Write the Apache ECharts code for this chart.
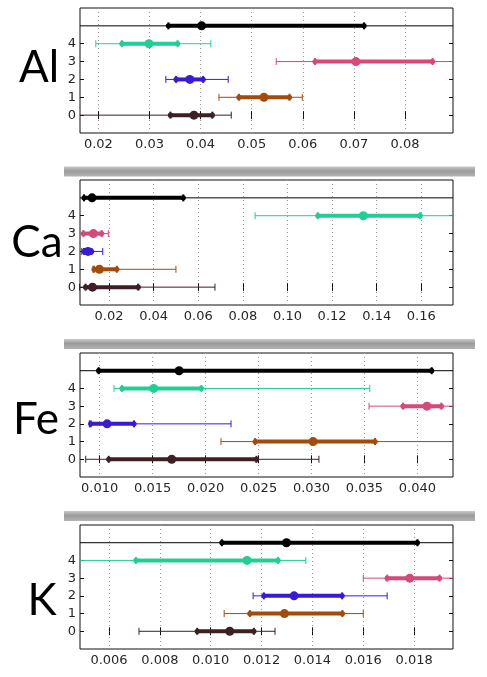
<!DOCTYPE html>
<html>
<head>
<meta charset="utf-8">
<script src="https://cdn.jsdelivr.net/npm/echarts@6/dist/echarts.min.js"></script>
<style>
  html, body { margin: 0; padding: 0; background: #ffffff; }
  #chart { width: 487px; height: 677px; }
</style>
</head>
<body>
<div id="chart"></div>
<script>
// Interval estimates per element; rows 0-4 are groups, row 5 is the pooled estimate.
// Each row: wide interval (thin), narrow interval (thick) and point estimate.
const rowIds = [0, 1, 2, 3, 4, 5];
const rowColors = ['#3d1f24', '#a34b0b', '#3b1ad6', '#d5497b', '#22cf93', '#000000'];
const yTickValues = [0, 1, 2, 3, 4];

// Al
const alThinLo  = [0.0100, 0.0436, 0.0332, 0.0548, 0.0195, 0.0000];
const alThinHi  = [0.0460, 0.0599, 0.0454, 0.0950, 0.0420, 0.1000];
const alThickLo = [0.0341, 0.0475, 0.0352, 0.0624, 0.0246, 0.0337];
const alThickHi = [0.0423, 0.0574, 0.0405, 0.0854, 0.0355, 0.0720];
const alPoint   = [0.0387, 0.0524, 0.0379, 0.0704, 0.0299, 0.0402];
const alRange   = [0.0164, 0.0894];
const alTicks   = [0.02, 0.03, 0.04, 0.05, 0.06, 0.07, 0.08];

// Ca
const caThinLo  = [0.0068, 0.0128, 0.0078, 0.0060, 0.0855, 0.0000];
const caThinHi  = [0.0675, 0.0500, 0.0172, 0.0197, 0.1900, 0.2000];
const caThickLo = [0.0095, 0.0133, 0.0088, 0.0085, 0.1136, 0.0088];
const caThickHi = [0.0331, 0.0235, 0.0122, 0.0167, 0.1595, 0.0533];
const caPoint   = [0.0126, 0.0157, 0.0106, 0.0130, 0.1340, 0.0124];
const caRange   = [0.0070, 0.1742];
const caTicks   = [0.02, 0.04, 0.06, 0.08, 0.10, 0.12, 0.14, 0.16];

// Fe
const feThinLo  = [0.00868, 0.02145, 0.00902, 0.03543, 0.01135, 0.0000];
const feThinHi  = [0.03070, 0.04600, 0.02240, 0.04600, 0.03550, 0.0600];
const feThickLo = [0.01085, 0.02468, 0.00915, 0.03864, 0.01210, 0.00990];
const feThickHi = [0.02480, 0.03600, 0.01324, 0.04226, 0.01960, 0.04135];
const fePoint   = [0.01680, 0.03015, 0.01070, 0.04090, 0.01510, 0.01750];
const feRange   = [0.00814, 0.04336];
const feTicks   = [0.010, 0.015, 0.020, 0.025, 0.030, 0.035, 0.040];

// K
const kThinLo   = [0.00718, 0.01053, 0.01167, 0.01600, 0.00400, 0.0000];
const kThinHi   = [0.01253, 0.01600, 0.01694, 0.02050, 0.01374, 0.0300];
const kThickLo  = [0.00947, 0.01154, 0.01209, 0.01694, 0.00706, 0.01044];
const kThickHi  = [0.01170, 0.01518, 0.01517, 0.01900, 0.01265, 0.01813];
const kPoint    = [0.01075, 0.01290, 0.01328, 0.01783, 0.01143, 0.01298];
const kRange    = [0.00486, 0.01953];
const kTicks    = [0.006, 0.008, 0.010, 0.012, 0.014, 0.016, 0.018];

const panels = [
  { name: 'Al', cols: [alThinLo, alThinHi, alThickLo, alThickHi, alPoint], range: alRange, ticks: alTicks, dec: 2, split: 7, top: 8,   height: 125, labelX: 39, labelY: 68 },
  { name: 'Ca', cols: [caThinLo, caThinHi, caThickLo, caThickHi, caPoint], range: caRange, ticks: caTicks, dec: 2, split: 8, top: 180, height: 125, labelX: 37, labelY: 243 },
  { name: 'Fe', cols: [feThinLo, feThinHi, feThickLo, feThickHi, fePoint], range: feRange, ticks: feTicks, dec: 3, split: 7, top: 353, height: 124, labelX: 36, labelY: 420 },
  { name: 'K',  cols: [kThinLo,  kThinHi,  kThickLo,  kThickHi,  kPoint],  range: kRange,  ticks: kTicks,  dec: 3, split: 7, top: 525, height: 124, labelX: 42, labelY: 601 }
];

// grey separators between the panels
const separators = [166.5, 339, 511];

function renderInterval(params, api) {
  const cs = params.coordSys;
  const left = cs.x, right = cs.x + cs.width;
  const row = api.value(0);
  const y = api.coord([0, row])[1];
  const px = v => api.coord([v, row])[0];
  const clamp = x => Math.max(left, Math.min(right, x));
  const inside = x => x >= left - 0.5 && x <= right + 0.5;
  const color = rowColors[row];
  const t1 = px(api.value(1)), t2 = px(api.value(2));
  const k1 = px(api.value(3)), k2 = px(api.value(4));
  const p = px(api.value(5));
  const children = [];
  children.push({ type: 'line', shape: { x1: clamp(t1), y1: y, x2: clamp(t2), y2: y },
                  style: { stroke: color, lineWidth: 1 } });
  [t1, t2].forEach(x => {
    if (inside(x)) children.push({ type: 'line', shape: { x1: x, y1: y - 3.5, x2: x, y2: y + 3.5 },
                                   style: { stroke: color, lineWidth: 1 } });
  });
  children.push({ type: 'line', shape: { x1: clamp(k1), y1: y, x2: clamp(k2), y2: y },
                  style: { stroke: color, lineWidth: 4 } });
  [k1, k2].forEach(x => {
    if (inside(x)) {
      children.push({ type: 'line', shape: { x1: x, y1: y - 3.5, x2: x, y2: y + 3.5 },
                      style: { stroke: color, lineWidth: 2 } });
      children.push({ type: 'circle', shape: { cx: x, cy: y, r: 2.6 }, style: { fill: color } });
    }
  });
  if (inside(p)) children.push({ type: 'circle', shape: { cx: p, cy: y, r: 4.5 }, style: { fill: color } });
  return { type: 'group', silent: true, children };
}

const tickFont = { fontFamily: 'DejaVu Sans', fontSize: 13, color: '#262626' };

const grid = [], xAxis = [], yAxis = [], series = [], graphic = [];
panels.forEach((pn, i) => {
  grid.push({ left: 80, right: 34, top: pn.top, height: pn.height, show: true,
              borderColor: '#111', borderWidth: 1, backgroundColor: 'transparent' });
  const fmt = v => Number(v).toFixed(pn.dec);
  xAxis.push({
    gridIndex: i, type: 'value', min: pn.range[0], max: pn.range[1], splitNumber: pn.split,
    axisLine: { show: false },
    axisTick: { show: true, inside: true, length: 4, customValues: pn.ticks, lineStyle: { color: '#111' } },
    axisLabel: { show: true, margin: 5, customValues: pn.ticks, formatter: fmt, ...tickFont },
    splitLine: { show: true, lineStyle: { color: '#9a9a9a', type: [1, 3], width: 1 } }
  });
  xAxis.push({
    gridIndex: i, type: 'value', position: 'top', min: pn.range[0], max: pn.range[1], splitNumber: pn.split,
    axisLine: { show: false },
    axisTick: { show: true, inside: true, length: 4, customValues: pn.ticks, lineStyle: { color: '#111' } },
    axisLabel: { show: false }, splitLine: { show: false }
  });
  yAxis.push({
    gridIndex: i, type: 'value', min: -1, max: 6, interval: 1,
    axisLine: { show: false },
    axisTick: { show: true, inside: true, length: 4, customValues: yTickValues, lineStyle: { color: '#111' } },
    axisLabel: { show: true, margin: 4, customValues: yTickValues,
                 formatter: v => (yTickValues.indexOf(v) >= 0 ? String(v) : ''), ...tickFont },
    splitLine: { show: false }
  });
  yAxis.push({
    gridIndex: i, type: 'value', position: 'right', min: -1, max: 6, interval: 1,
    axisLine: { show: false },
    axisTick: { show: true, inside: true, length: 4, customValues: yTickValues, lineStyle: { color: '#111' } },
    axisLabel: { show: false }, splitLine: { show: false }
  });
  const data = rowIds.map((r, j) => [r, pn.cols[0][j], pn.cols[1][j], pn.cols[2][j], pn.cols[3][j], pn.cols[4][j]]);
  series.push({
    type: 'custom', name: pn.name, xAxisIndex: i * 2, yAxisIndex: i * 2,
    encode: { x: 5, y: 0 }, renderItem: renderInterval, data, z: 3
  });
  graphic.push({
    type: 'text', silent: true,
    style: { text: pn.name, x: pn.labelX, y: pn.labelY, align: 'center', verticalAlign: 'middle',
             font: '44px Lato', fill: '#000' }
  });
});

separators.forEach(y => {
  graphic.push({
    type: 'rect', silent: true, shape: { x: 64, y: y, width: 411, height: 10 },
    style: { fill: new echarts.graphic.LinearGradient(0, 0, 0, 1, [
      { offset: 0, color: '#c9c9c9' }, { offset: 0.45, color: '#9b9b9b' }, { offset: 1, color: '#b4b4b4' }
    ]) }
  });
});

const chart = echarts.init(document.getElementById('chart'), null, { renderer: 'canvas' });
chart.setOption({ animation: false, backgroundColor: '#ffffff', grid, xAxis, yAxis, series, graphic });
</script>
</body>
</html>
